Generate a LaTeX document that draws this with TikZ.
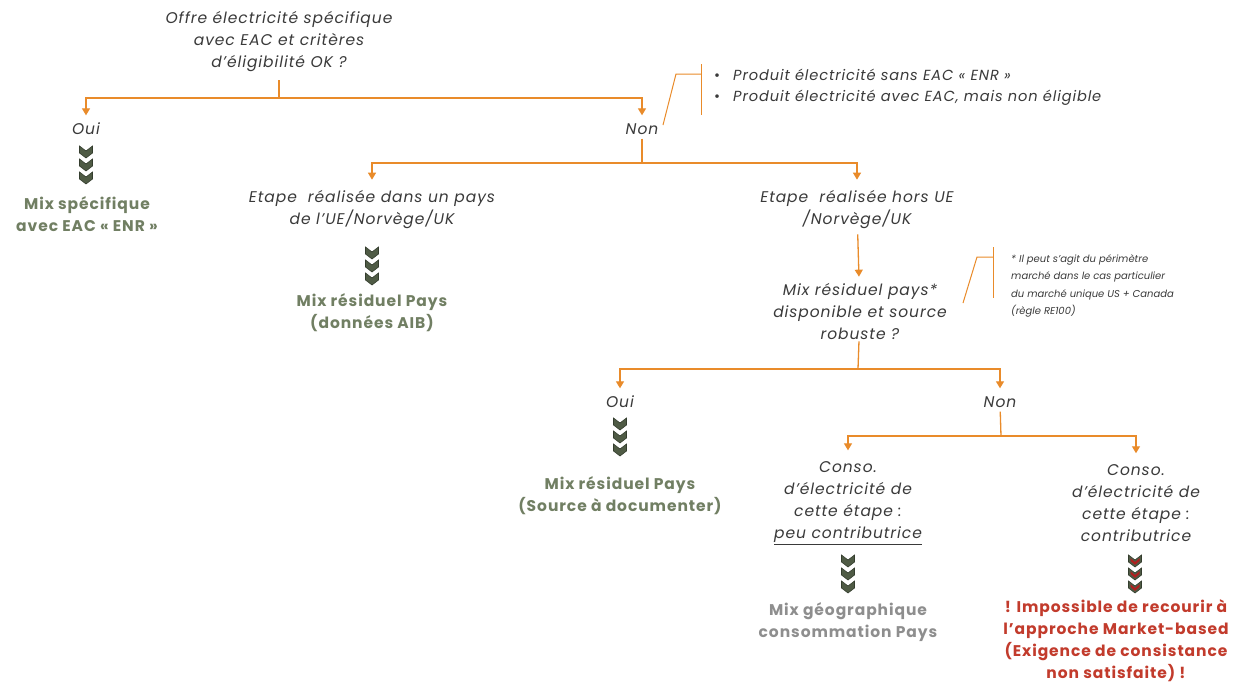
\documentclass[tikz,border=0pt]{standalone}
\usepackage{fontspec}
\setmainfont{Poppins}[LetterSpace=6]
\usetikzlibrary{arrows.meta}
\definecolor{org}{HTML}{E98B2A}
\definecolor{txt}{HTML}{3A3A3A}
\definecolor{grn}{HTML}{717F63}
\definecolor{gry}{HTML}{8E8E8E}
\definecolor{rd}{HTML}{C23B2C}
\definecolor{chevg}{HTML}{4F5B45}
\definecolor{chevd}{HTML}{343D2E}
\definecolor{chevr}{HTML}{B01F1F}
\tikzset{
  q/.style={text=txt, align=center, font=\fontsize{15.5}{22}\selectfont\itshape, inner sep=1pt},
  ans/.style={text=txt, font=\fontsize{15.5}{22}\selectfont\itshape, inner sep=1pt, text height=10pt, text depth=3pt},
  res/.style={text=grn, align=center, font=\fontsize{15.5}{22}\selectfont\bfseries, inner sep=1pt},
  resg/.style={res, text=gry},
  resr/.style={res, text=rd},
  note/.style={text=txt, align=left, inner sep=0pt},
  ln/.style={draw=org, line width=1.3pt},
  arr/.style={ln, -{Triangle[width=8pt,length=7pt]}},
  chev/.pic={
    \foreach \k in {0,1,2}{
      \filldraw[fill=chevg, draw=chevd, line width=0.6pt]
        (-6.5,\k*13) -- (0,\k*13+5) -- (6.5,\k*13) -- (6.5,\k*13+7)
        -- (0,\k*13+12) -- (-6.5,\k*13+7) -- cycle;
    }},
  chevred/.pic={
    \foreach \k in {0,1,2}{
      \filldraw[fill=chevg, draw=chevd, line width=0.6pt]
        (-6.5,\k*13) -- (0,\k*13+5) -- (6.5,\k*13) -- (6.5,\k*13+7)
        -- (0,\k*13+12) -- (-6.5,\k*13+7) -- cycle;
      \fill[chevr] (-4.5,\k*13+3.2) -- (0,\k*13+7) -- (4.5,\k*13+3.2) -- (4.5,\k*13+6)
        -- (0,\k*13+9.8) -- (-4.5,\k*13+6) -- cycle;
    }}
}
\begin{document}
\begin{tikzpicture}[x=1pt,y=-1pt]
\useasboundingbox[fill=white] (0,0) rectangle (1235,683);

% nodes
\node[q] (q1) at (279,42) {Offre électricité spécifique\\avec EAC et critères\\d’éligibilité OK ?};
\node[ans] (oui1) at (86,131) {Oui};
\node[ans] (non1) at (642,131) {Non};
\node[res] (r1) at (87,214) {Mix spécifique\\avec EAC « ENR »};
\node[q] (e1) at (372,210) {Etape \ réalisée dans un pays\\de l’UE/Norvège/UK};
\node[q] (e2) at (857,210) {Etape \ réalisée hors UE\\/Norvège/UK};
\node[res] (r2) at (372,313) {Mix résiduel Pays\\(données AIB)};
\node[q] (q2) at (860,312) {Mix résiduel pays*\\disponible et source\\robuste ?};
\node[ans] (oui2) at (620,404) {Oui};
\node[ans] (non2) at (1000,404) {Non};
\node[res] (r3) at (620,496) {Mix résiduel Pays\\(Source à documenter)};
\node[q] (c1) at (848,503) {Conso.\\d’électricité de\\cette étape :\\\underline{peu contributrice}};
\node[q] (c2) at (1136,503) {Conso.\\d’électricité de\\cette étape :\\contributrice};
\node[resg] (r4) at (848,622) {Mix géographique\\consommation Pays};
\node[resr] (r5) at (1116,641) {! Impossible de recourir à\\l’approche Market-based\\(Exigence de consistance\\non satisfaite) !};

% notes
\node[note, anchor=west, font=\fontsize{14.6}{21}\selectfont] (n1) at (714,87)
  {{\upshape •}\hspace{13pt}\textit{Produit électricité sans EAC « ENR »}\\
   {\upshape •}\hspace{13pt}\textit{Produit électricité avec EAC, mais non éligible}};
\node[note, anchor=west, font=\fontsize{10}{17.5}\selectfont\itshape\addfontfeatures{LetterSpace=0}] (n2) at (1011,286)
  {* Il peut s’agit du périmètre\\marché dans le cas particulier\\du marché unique US + Canada\\(règle RE100)};

% chevrons
\pic at (86,146) {chev};
\pic at (372,247) {chev};
\pic at (620,418) {chev};
\pic at (848,555) {chev};
\pic at (1135,555) {chevred};

% connectors
\coordinate (j1) at (279,98);
\draw[ln] (279,80) coordinate (s1) -- (j1);
\draw[arr, shorten >=8pt] (j1) -| (oui1);
\draw[arr, shorten >=8pt] (j1) -| (non1);

\coordinate (j2) at (642,163);
\draw[ln] (non1) -- (j2);
\draw[arr, shorten >=10pt] (j2) -| (e1);
\draw[arr, shorten >=10pt] (j2) -| (e2);

\draw[arr, shorten <=4pt, shorten >=6pt] (e2) -- (q2);

\coordinate (j3) at (858,369);
\draw[ln] (q2) -- (j3);
\draw[arr, shorten >=8pt] (j3) -| (oui2);
\draw[arr, shorten >=8pt] (j3) -| (non2);

\coordinate (j4) at (1001,436);
\draw[ln] (non2) -- (j4);
\draw[arr, shorten >=10pt] (j4) -| (c1);
\draw[arr, shorten >=10pt] (j4) -| (c2);

% callouts
\coordinate (k1a) at (663,125);
\coordinate (k1b) at (676,74);
\coordinate (k1c) at (701,74);
\draw[ln, line width=1pt] (k1a) -- (k1b) -- (k1c);
\draw[ln, line width=1pt] (701,64) -- (701,115);
\coordinate (k2a) at (963,303);
\coordinate (k2b) at (977,257);
\coordinate (k2c) at (993,257);
\draw[ln, line width=1pt] (k2a) -- (k2b) -- (k2c);
\draw[ln, line width=1pt] (993,247) -- (993,298);
\end{tikzpicture}
\end{document}
